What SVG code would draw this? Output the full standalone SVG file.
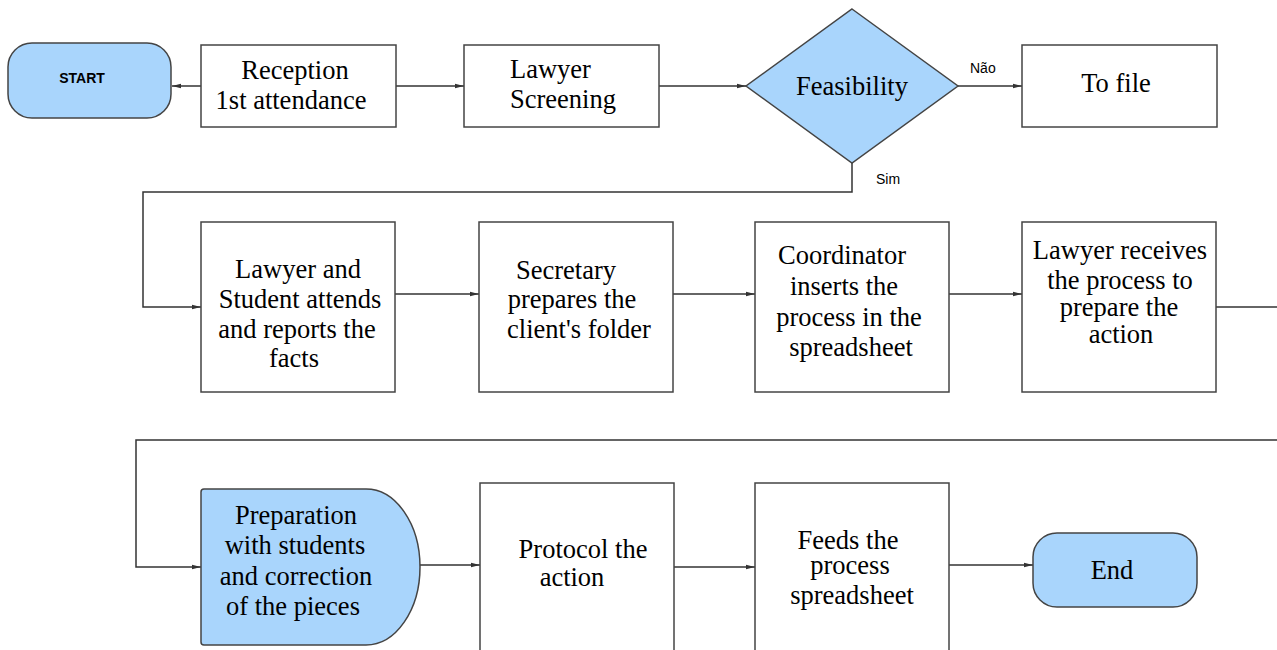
<svg xmlns="http://www.w3.org/2000/svg" width="1277" height="650" viewBox="0 0 1277 650">
<defs>
<style>
.box{fill:#ffffff;stroke:#444;stroke-width:1.5}
.blue{fill:#a9d5fc;stroke:#444;stroke-width:1.5}
.t{font-family:"Liberation Serif","Times New Roman",serif;font-size:26.5px;fill:#000}
.m{text-anchor:middle}
.s{font-family:"Liberation Sans",Arial,sans-serif;font-size:14px;fill:#000}
.c{fill:none;stroke:#333;stroke-width:1.5}
</style>
<marker id="ah" markerWidth="10" markerHeight="6" refX="9" refY="3" orient="auto" markerUnits="userSpaceOnUse">
<path d="M0,0.8 L9,3 L0,5.2 Z" fill="#333"/>
</marker>
</defs>
<rect width="1277" height="650" fill="#fff"/>
<g id="connectors">
<line class="c" x1="201" y1="86" x2="172" y2="86" marker-end="url(#ah)"/>
<line class="c" x1="396" y1="86" x2="464" y2="86" marker-end="url(#ah)"/>
<line class="c" x1="659" y1="86" x2="746" y2="86" marker-end="url(#ah)"/>
<line class="c" x1="958" y1="86" x2="1022" y2="86" marker-end="url(#ah)"/>
<polyline class="c" points="852,163 852,192 143,192 143,307 201,307" marker-end="url(#ah)"/>
<line class="c" x1="395" y1="294" x2="479" y2="294" marker-end="url(#ah)"/>
<line class="c" x1="673" y1="294" x2="755" y2="294" marker-end="url(#ah)"/>
<line class="c" x1="949" y1="294" x2="1022" y2="294" marker-end="url(#ah)"/>
<line class="c" x1="1216" y1="307" x2="1278" y2="307"/>
<polyline class="c" points="1278,440 136,440 136,567 201,567" marker-end="url(#ah)"/>
<line class="c" x1="420" y1="565" x2="480" y2="565" marker-end="url(#ah)"/>
<line class="c" x1="674" y1="567" x2="755" y2="567" marker-end="url(#ah)"/>
<line class="c" x1="949" y1="565" x2="1033" y2="565" marker-end="url(#ah)"/>
<text class="s" x="970" y="73">Não</text>
<text class="s" x="876" y="184">Sim</text>
</g>
<g id="start">
<rect class="blue" x="8" y="43" width="163" height="75" rx="24"/>
<text x="82" y="83" style="font-family:'Liberation Sans',Arial,sans-serif;font-size:14px;font-weight:bold" text-anchor="middle">START</text>
</g>
<g id="reception">
<rect class="box" x="201" y="45" width="195" height="82"/>
<text class="t m" x="295" y="79">Reception</text>
<text class="t m" x="291" y="109">1st attendance</text>
</g>
<g id="screening">
<rect class="box" x="464" y="45" width="195" height="82"/>
<text class="t" x="510" y="78">Lawyer</text>
<text class="t" x="510" y="108">Screening</text>
</g>
<g id="feasibility">
<polygon class="blue" points="852,9 958,86 852,163 746,86"/>
<text class="t m" x="852" y="95">Feasibility</text>
</g>
<g id="tofile">
<rect class="box" x="1022" y="45" width="195" height="82"/>
<text class="t m" x="1116" y="92">To file</text>
</g>
<g id="attends">
<rect class="box" x="201" y="222" width="194" height="170"/>
<text class="t m" x="298" y="278">Lawyer and</text>
<text class="t m" x="300" y="308">Student attends</text>
<text class="t m" x="297" y="338">and reports the</text>
<text class="t m" x="294" y="367">facts</text>
</g>
<g id="secretary">
<rect class="box" x="479" y="222" width="194" height="170"/>
<text class="t m" x="566" y="279">Secretary</text>
<text class="t m" x="572" y="308">prepares the</text>
<text class="t m" x="579" y="338">client's folder</text>
</g>
<g id="coordinator">
<rect class="box" x="755" y="222" width="194" height="170"/>
<text class="t m" x="842" y="264">Coordinator</text>
<text class="t m" x="844" y="295">inserts the</text>
<text class="t m" x="849" y="326">process in the</text>
<text class="t m" x="851" y="356">spreadsheet</text>
</g>
<g id="receives">
<rect class="box" x="1022" y="222" width="194" height="170"/>
<text class="t m" x="1120" y="259">Lawyer receives</text>
<text class="t m" x="1120" y="289">the process to</text>
<text class="t m" x="1119" y="316">prepare the</text>
<text class="t m" x="1121" y="343">action</text>
</g>
<g id="preparation">
<path class="blue" d="M204,489 H366 A54,78 0 0 1 366,645 H204 Q201,645 201,642 V492 Q201,489 204,489 Z"/>
<text class="t m" x="296" y="524">Preparation</text>
<text class="t m" x="295" y="554">with students</text>
<text class="t m" x="296" y="585">and correction</text>
<text class="t m" x="293" y="615">of the pieces</text>
</g>
<g id="protocol">
<rect class="box" x="480" y="483" width="194" height="180"/>
<text class="t m" x="583" y="558">Protocol the</text>
<text class="t m" x="572" y="586">action</text>
</g>
<g id="feeds">
<rect class="box" x="755" y="483" width="194" height="180"/>
<text class="t m" x="848" y="549">Feeds the</text>
<text class="t m" x="850" y="574">process</text>
<text class="t m" x="852" y="604">spreadsheet</text>
</g>
<g id="end">
<rect class="blue" x="1033" y="533" width="164" height="74" rx="24"/>
<text class="t m" x="1112" y="579">End</text>
</g>
</svg>
